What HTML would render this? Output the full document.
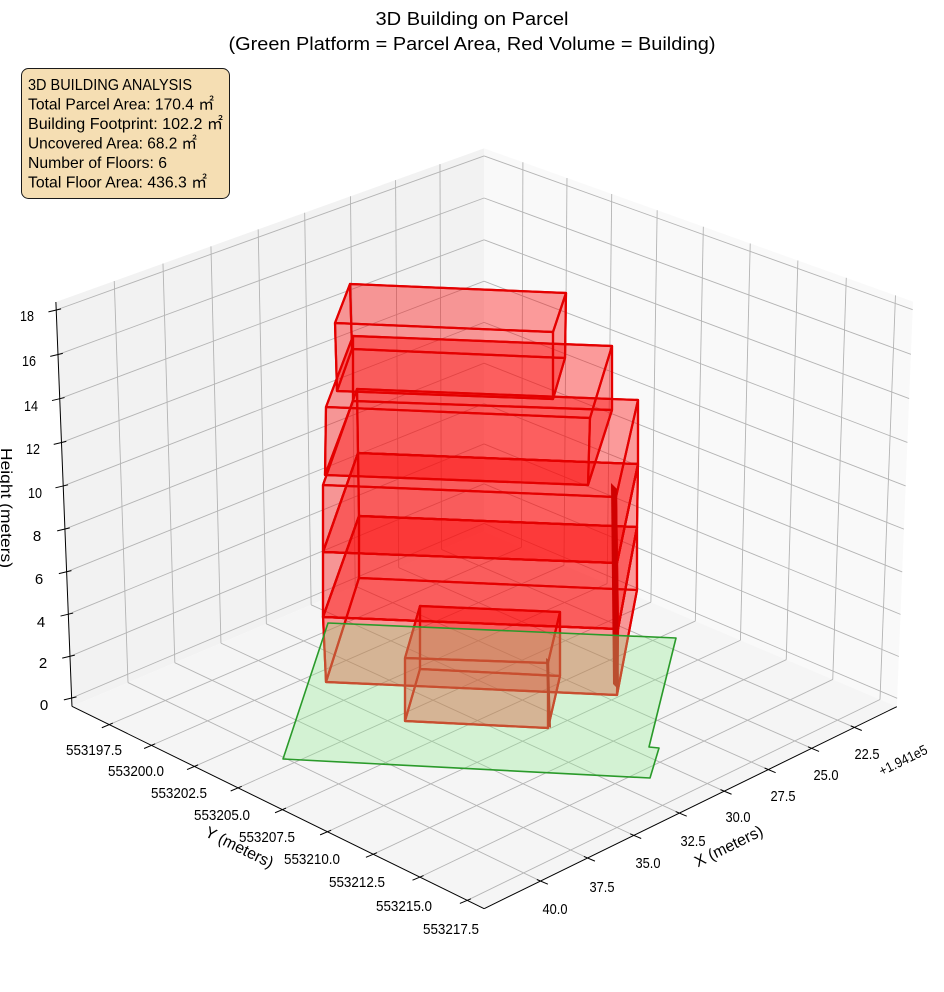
<!DOCTYPE html>
<html><head><meta charset="utf-8">
<style>
html,body{margin:0;padding:0;background:#fff;}
svg{display:block;}
text{font-family:"Liberation Sans","Noto Sans CJK JP",sans-serif;fill:#000;}
</style></head>
<body>
<svg id="s" width="944" height="992" viewBox="0 0 944 992" xmlns="http://www.w3.org/2000/svg">
<rect x="0" y="0" width="944" height="992" fill="#fff"/>
<g id="panes"></g>
<g id="grid" stroke="#b4b4b4" stroke-width="0.9" fill="none"></g>
<g id="axes" stroke="#000" stroke-width="1" fill="none"></g>
<g id="faces"></g>
<g id="edges" fill="none" stroke="#e40000" stroke-width="2.2" stroke-linejoin="round"></g>
<g id="slivers">
  <polygon points="611,483 617,489 619,690 613,684" fill="#d00000"/>
  <polygon points="546,658 549,660 551,728 548,726" fill="#d00000"/>
</g>
<polygon points="328,623 676,638 649,747 659,748 650,778 283,759" fill="rgba(144,238,144,0.33)" stroke="#2a9a2a" stroke-width="1.6" stroke-linejoin="round"/>

<!-- Title -->
<text x="472" y="25" font-size="18" text-anchor="middle" textLength="193" lengthAdjust="spacingAndGlyphs">3D Building on Parcel</text>
<text x="472" y="50" font-size="18" text-anchor="middle" textLength="487" lengthAdjust="spacingAndGlyphs">(Green Platform = Parcel Area, Red Volume = Building)</text>

<!-- Info box -->
<rect x="21.5" y="68.5" width="208" height="130" rx="7" ry="7" fill="#f5deb3" stroke="#1a1a1a" stroke-width="1"/>
<g font-size="16">
<text x="28" y="90" textLength="164" lengthAdjust="spacingAndGlyphs">3D BUILDING ANALYSIS</text>
<text x="28" y="109.5" textLength="186" lengthAdjust="spacingAndGlyphs">Total Parcel Area: 170.4 ㎡</text>
<text x="28" y="129" textLength="195" lengthAdjust="spacingAndGlyphs">Building Footprint: 102.2 ㎡</text>
<text x="28" y="148.5" textLength="169" lengthAdjust="spacingAndGlyphs">Uncovered Area: 68.2 ㎡</text>
<text x="28" y="168" textLength="139" lengthAdjust="spacingAndGlyphs">Number of Floors: 6</text>
<text x="28" y="187.5" textLength="179" lengthAdjust="spacingAndGlyphs">Total Floor Area: 436.3 ㎡</text>
</g>

<!-- Z tick labels -->
<g font-size="15" text-anchor="middle">
<text x="27" y="321" textLength="14" lengthAdjust="spacingAndGlyphs">18</text>
<text x="29" y="366" textLength="14" lengthAdjust="spacingAndGlyphs">16</text>
<text x="31" y="411" textLength="14" lengthAdjust="spacingAndGlyphs">14</text>
<text x="33" y="454" textLength="14" lengthAdjust="spacingAndGlyphs">12</text>
<text x="35" y="498" textLength="14" lengthAdjust="spacingAndGlyphs">10</text>
<text x="37" y="541">8</text>
<text x="39" y="584">6</text>
<text x="41" y="627">4</text>
<text x="43" y="668">2</text>
<text x="44" y="710">0</text>
</g>

<!-- Y tick labels -->
<g font-size="15" text-anchor="middle">
<text x="94" y="755" textLength="56" lengthAdjust="spacingAndGlyphs">553197.5</text>
<text x="136" y="776" textLength="56" lengthAdjust="spacingAndGlyphs">553200.0</text>
<text x="179" y="798" textLength="56" lengthAdjust="spacingAndGlyphs">553202.5</text>
<text x="222" y="820" textLength="56" lengthAdjust="spacingAndGlyphs">553205.0</text>
<text x="267" y="842" textLength="56" lengthAdjust="spacingAndGlyphs">553207.5</text>
<text x="312" y="864" textLength="56" lengthAdjust="spacingAndGlyphs">553210.0</text>
<text x="357" y="887" textLength="56" lengthAdjust="spacingAndGlyphs">553212.5</text>
<text x="404" y="911" textLength="56" lengthAdjust="spacingAndGlyphs">553215.0</text>
<text x="451" y="934" textLength="56" lengthAdjust="spacingAndGlyphs">553217.5</text>
</g>

<!-- X tick labels -->
<g font-size="15" text-anchor="middle">
<text x="555" y="914" textLength="25" lengthAdjust="spacingAndGlyphs">40.0</text>
<text x="602" y="892" textLength="25" lengthAdjust="spacingAndGlyphs">37.5</text>
<text x="648" y="868" textLength="25" lengthAdjust="spacingAndGlyphs">35.0</text>
<text x="693" y="846" textLength="25" lengthAdjust="spacingAndGlyphs">32.5</text>
<text x="738" y="822" textLength="25" lengthAdjust="spacingAndGlyphs">30.0</text>
<text x="783" y="801" textLength="25" lengthAdjust="spacingAndGlyphs">27.5</text>
<text x="826" y="780" textLength="25" lengthAdjust="spacingAndGlyphs">25.0</text>
<text x="867" y="759" textLength="25" lengthAdjust="spacingAndGlyphs">22.5</text>
</g>

<!-- Axis labels -->
<text transform="translate(239,848) rotate(26.2)" font-size="16" text-anchor="middle" dominant-baseline="central" textLength="74" lengthAdjust="spacingAndGlyphs">Y (meters)</text>
<text transform="translate(729,847) rotate(-26.2)" font-size="16" text-anchor="middle" dominant-baseline="central" textLength="74" lengthAdjust="spacingAndGlyphs">X (meters)</text>
<text transform="translate(903,760) rotate(-26.2)" font-size="14" text-anchor="middle" dominant-baseline="central" textLength="52" lengthAdjust="spacingAndGlyphs">+1.941e5</text>
<text transform="translate(1,508) rotate(90)" font-size="16" text-anchor="middle" textLength="120" lengthAdjust="spacingAndGlyphs">Height (meters)</text>
</svg>

<script>
(function(){
const NS='http://www.w3.org/2000/svg';
function el(parent, tag, attrs){ const e=document.createElementNS(NS,tag); for(const k in attrs) e.setAttribute(k,attrs[k]); parent.appendChild(e); return e; }
function gauss(M, r){
  const n=r.length;
  for(let i=0;i<n;i++){
    let piv=i;
    for(let k=i+1;k<n;k++) if(Math.abs(M[k][i])>Math.abs(M[piv][i])) piv=k;
    let t=M[i]; M[i]=M[piv]; M[piv]=t; t=r[i]; r[i]=r[piv]; r[piv]=t;
    for(let k=i+1;k<n;k++){ const f=M[k][i]/M[i][i]; for(let j=i;j<n;j++) M[k][j]-=f*M[i][j]; r[k]-=f*r[i]; }
  }
  const x=new Array(n).fill(0);
  for(let i=n-1;i>=0;i--){ let s=r[i]; for(let j=i+1;j<n;j++) s-=M[i][j]*x[j]; x[i]=s/M[i][i]; }
  return x;
}
const pts=[[0,0,0,484,532],[1,0,0,72,706],[1,1,0,484,909],[0,1,0,897,706],[0,0,1,484,148],[1,0,1,56,302],[0,1,1,913,302]];
const A=[],b=[];
for(const a of pts){ const p=a[0],q=a[1],w=a[2],X=a[3],Y=a[4];
  A.push([p,q,w,1,0,0,0,0,-X*p,-X*q,-X*w]); b.push(X);
  A.push([0,0,0,0,p,q,w,1,-Y*p,-Y*q,-Y*w]); b.push(Y); }
const N=[],r=[];
for(let i=0;i<11;i++){ N.push(new Array(11).fill(0)); r.push(0);
  for(let k=0;k<A.length;k++){ r[i]+=A[k][i]*b[k]; for(let j=0;j<11;j++) N[i][j]+=A[k][i]*A[k][j]; } }
const m=gauss(N,r);
function P(p,q,w){ const d=m[8]*p+m[9]*q+m[10]*w+1; return [(m[0]*p+m[1]*q+m[2]*w+m[3])/d,(m[4]*p+m[5]*q+m[6]*w+m[7])/d]; }
function inv(f,target){ let lo=-1,hi=2; const inc=f(hi)>f(lo);
  for(let i=0;i<80;i++){ const mid=(lo+hi)/2; const v=f(mid); if((v<target)===inc) lo=mid; else hi=mid; } return (lo+hi)/2; }
const p225=inv(t=>P(t,0,0)[0],441.5), p40=inv(t=>P(t,0,0)[0],128);
const q1=inv(t=>P(0,t,0)[0],521.5), q2=inv(t=>P(0,t,0)[0],880);
const w0=inv(t=>P(1,0,t)[1],698), w18=inv(t=>P(1,0,t)[1],310);
const pX=X=>p225+(X-22.5)/17.5*(p40-p225);
const qY=Y=>q1+(Y-553197.5)/20*(q2-q1);
const wZ=Z=>w0+Z/18*(w18-w0);
const f=v=>v.toFixed(2);
const pl=arr=>arr.map(a=>f(a[0])+','+f(a[1])).join(' ');

const panes=document.getElementById('panes');
el(panes,'polygon',{points:pl([P(0,0,0),P(1,0,0),P(1,0,1),P(0,0,1)]),fill:'#f2f2f2'});
el(panes,'polygon',{points:pl([P(0,0,0),P(0,1,0),P(0,1,1),P(0,0,1)]),fill:'#f9f9f9'});
el(panes,'polygon',{points:pl([P(0,0,0),P(1,0,0),P(1,1,0),P(0,1,0)]),fill:'#f5f5f5'});

const grid=document.getElementById('grid');
function line(g,a,c){ return el(g,'line',{x1:f(a[0]),y1:f(a[1]),x2:f(c[0]),y2:f(c[1])}); }
for(let X=22.5;X<=40.001;X+=2.5){ const p=pX(X); line(grid,P(p,0,0),P(p,1,0)); line(grid,P(p,0,0),P(p,0,1)); }
for(let Y=553197.5;Y<=553217.501;Y+=2.5){ const q=qY(Y); line(grid,P(0,q,0),P(1,q,0)); line(grid,P(0,q,0),P(0,q,1)); }
for(let Z=0;Z<=18.001;Z+=2){ const w=wZ(Z); line(grid,P(0,0,w),P(1,0,w)); line(grid,P(0,0,w),P(0,1,w)); }

const ax=document.getElementById('axes');
line(ax,P(1,0,0),P(1,1,0)); line(ax,P(1,1,0),P(0,1,0)); line(ax,P(1,0,0),P(1,0,1));
function tick(pt,dx,dy,out,inn){ line(ax,[pt[0]+dx*out,pt[1]+dy*out],[pt[0]-dx*inn,pt[1]-dy*inn]); }
for(let Y=553197.5;Y<=553217.501;Y+=2.5){ tick(P(1,qY(Y),0),-0.921,0.389,8,4); }
for(let X=22.5;X<=40.001;X+=2.5){ tick(P(pX(X),1,0),0.921,0.388,8,4); }
for(let Z=0;Z<=18.001;Z+=2){ tick(P(1,0,wZ(Z)),-0.97,0.23,8,5); }

const prisms=[
 {t:[[420,606],[560,612],[548,663],[405,658]], b:[[420,669],[560,676],[548,728],[405,721]]},
 {t:[[359,516],[637,527],[618,629],[323,617]], b:[[359,578],[637,590],[617,695],[326,682]]},
 {t:[[358,453],[638,464],[617,563],[323,552]], b:[[359,516],[637,527],[618,629],[323,617]]},
 {t:[[357,389],[638,400],[616,497],[323,485]], b:[[358,453],[638,464],[617,563],[323,552]]},
 {t:[[353,336],[612,346],[590,418],[326,407]], b:[[353,401],[612,410],[588,485],[325,475]]},
 {t:[[350,284],[566,293],[553,332],[335,323]], b:[[352,349],[565,358],[553,399],[337,391]]}
];
const faces=document.getElementById('faces'), edges=document.getElementById('edges');
for(const pr of prisms){
  const T=pr.t,B=pr.b;
  const fl=[T,B];
  for(let i=0;i<4;i++){ const j=(i+1)%4; fl.push([T[i],T[j],B[j],B[i]]); }
  for(const fc of fl){ el(faces,'polygon',{points:pl(fc),fill:'#ff0000','fill-opacity':'0.21'}); }
  for(const fc of fl){ el(edges,'polygon',{points:pl(fc)}); }
}
})();
</script>
</body></html>
